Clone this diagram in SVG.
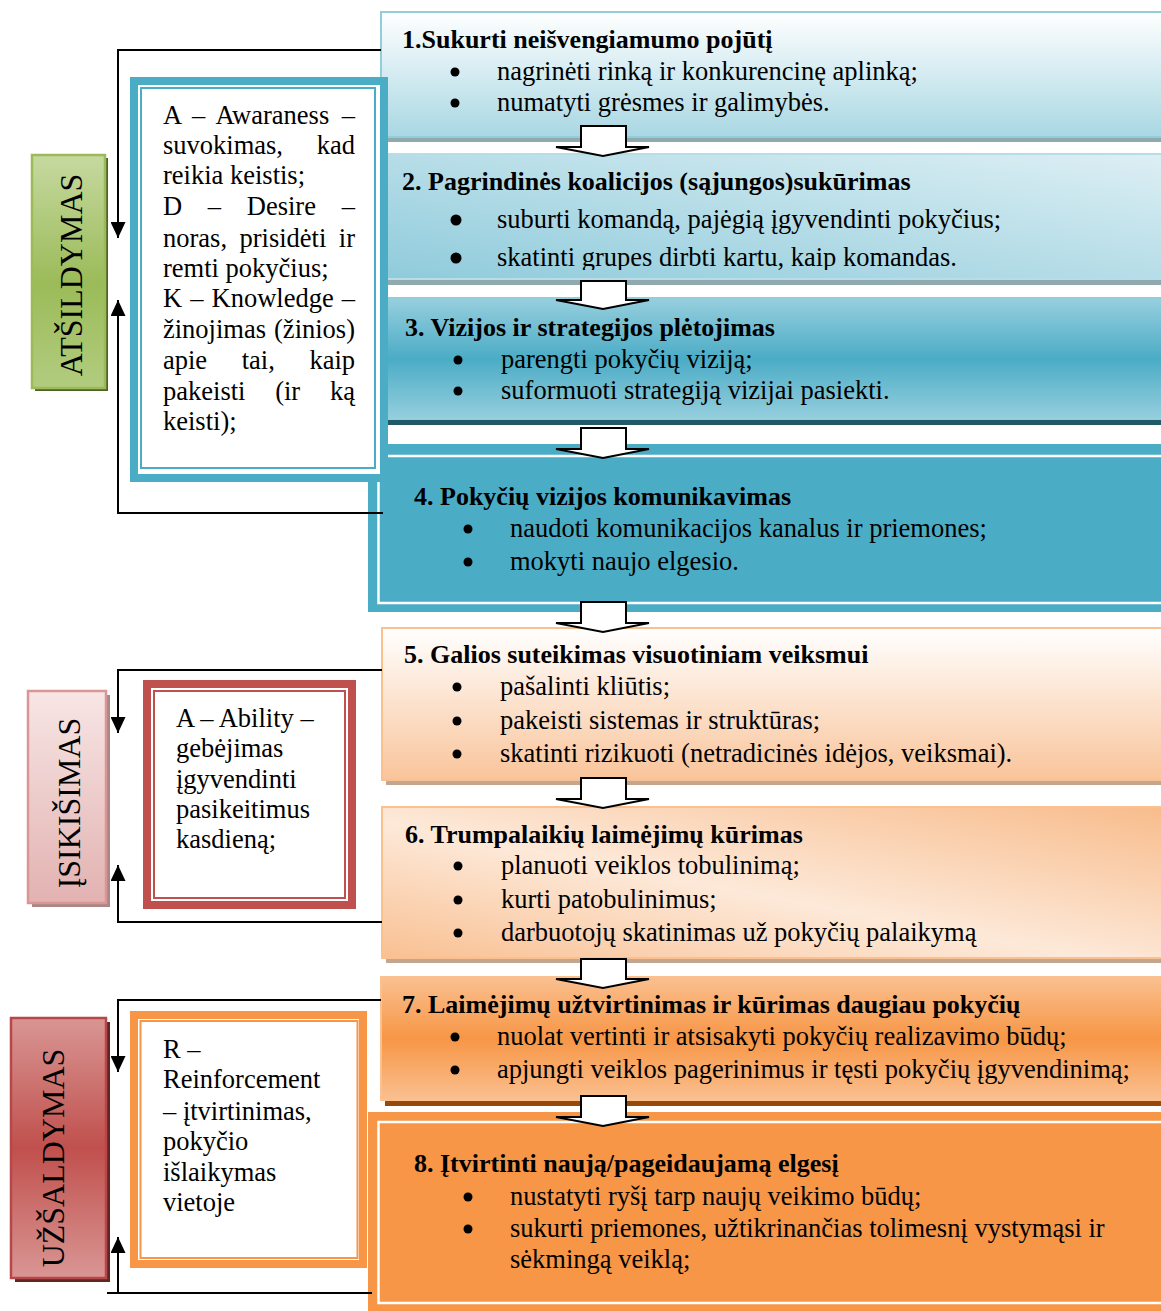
<svg xmlns="http://www.w3.org/2000/svg" width="1161" height="1311" viewBox="0 0 1161 1311">
<style>
.t{font-family:"Liberation Serif","Times New Roman",serif;font-size:26.5px;fill:#000}
.h{font-weight:bold;font-size:26px}
.s{font-size:32px}
.e{text-anchor:end}
.m{text-anchor:middle}
.c{fill:none;stroke:#000;stroke-width:2}
.ar{fill:#fff;stroke:#000;stroke-width:2;stroke-linejoin:miter}
.dot{fill:#000}
</style>
<defs>
<linearGradient id="g1" x1="0" y1="0" x2="0" y2="1"><stop offset="0" stop-color="#FFFFFF"/><stop offset="1" stop-color="#A9D7E3"/></linearGradient>
<linearGradient id="g2" x1="0" y1="1" x2="1" y2="0"><stop offset="0" stop-color="#8FCBDB"/><stop offset="1" stop-color="#DDEFF4"/></linearGradient>
<linearGradient id="g3" x1="0" y1="0" x2="0" y2="1"><stop offset="0" stop-color="#97CFDE"/><stop offset="0.5" stop-color="#4BACC6"/><stop offset="1" stop-color="#97CFDE"/></linearGradient>
<linearGradient id="g5" x1="0" y1="0" x2="0" y2="1"><stop offset="0" stop-color="#FFFFFF"/><stop offset="1" stop-color="#F9C49A"/></linearGradient>
<linearGradient id="g6" x1="0" y1="1" x2="1" y2="0"><stop offset="0" stop-color="#F9C092"/><stop offset="0.45" stop-color="#FDE9D9"/><stop offset="1" stop-color="#F8BC8C"/></linearGradient>
<linearGradient id="g7" x1="0" y1="0" x2="0" y2="1"><stop offset="0" stop-color="#FAC090"/><stop offset="0.5" stop-color="#F79646"/><stop offset="1" stop-color="#FAC090"/></linearGradient>
<linearGradient id="gA" x1="0" y1="0" x2="0" y2="1"><stop offset="0" stop-color="#C6D9A0"/><stop offset="0.55" stop-color="#9BBB59"/><stop offset="1" stop-color="#B2CC7F"/></linearGradient>
<linearGradient id="gI" x1="0" y1="0" x2="0" y2="1"><stop offset="0" stop-color="#F7E6E5"/><stop offset="1" stop-color="#E2B2B1"/></linearGradient>
<linearGradient id="gU" x1="0" y1="0" x2="0" y2="1"><stop offset="0" stop-color="#D99694"/><stop offset="0.5" stop-color="#C0504D"/><stop offset="1" stop-color="#D99694"/></linearGradient>
<marker id="ah" markerUnits="userSpaceOnUse" markerWidth="16" markerHeight="15" refX="16" refY="7.5" orient="auto"><path d="M0,0 L16,7.5 L0,15 z" fill="#000"/></marker>
<clipPath id="clip2"><rect x="381" y="154" width="782" height="116"/></clipPath>
</defs>

<g id="box1">
<rect x="385" y="137" width="778" height="5" fill="#8FA9AF"/>
<rect x="381" y="12" width="782" height="125" fill="url(#g1)" stroke="#92CDDC" stroke-width="2"/>
<text class="t h" x="402" y="48">1.Sukurti neišvengiamumo pojūtį</text>
<circle class="dot" cx="455" cy="72" r="4.5"/><circle class="dot" cx="455" cy="103" r="4.5"/>
<text class="t" x="497" y="80">nagrinėti rinką ir konkurencinę aplinką;</text>
<text class="t" x="497" y="111">numatyti grėsmes ir galimybės.</text>
</g>

<g id="box2">
<rect x="385" y="279" width="778" height="6" fill="#8FA9AF"/>
<rect x="381" y="154" width="782" height="125" fill="url(#g2)" stroke="#B6DDE8" stroke-width="2"/>
<text class="t h" x="402" y="190">2. Pagrindinės koalicijos (sąjungos)sukūrimas</text>
<circle class="dot" cx="456" cy="220" r="5.5"/><circle class="dot" cx="456" cy="258" r="5.5"/>
<text class="t" x="497" y="228">suburti komandą, pajėgią įgyvendinti pokyčius;</text>
<text class="t" x="497" y="266" clip-path="url(#clip2)">skatinti grupes dirbti kartu, kaip komandas.</text>
</g>

<g id="box3">
<rect x="381" y="298" width="782" height="122" fill="url(#g3)" stroke="#92CDDC" stroke-width="2"/>
<rect x="381" y="420" width="782" height="5" fill="#215968"/>
<text class="t h" x="405" y="336">3. Vizijos ir strategijos plėtojimas</text>
<circle class="dot" cx="458" cy="360" r="4.5"/><circle class="dot" cx="458" cy="391" r="4.5"/>
<text class="t" x="501" y="368">parengti pokyčių viziją;</text>
<text class="t" x="501" y="399">suformuoti strategiją vizijai pasiekti.</text>
</g>

<g id="box4">
<rect x="368" y="444" width="795" height="168" fill="#4BACC6"/>
<rect x="378.5" y="456" width="790" height="147" fill="none" stroke="#FFFFFF" stroke-width="2.5"/>
<text class="t h" x="414" y="505">4. Pokyčių vizijos komunikavimas</text>
<circle class="dot" cx="468" cy="529" r="4.5"/><circle class="dot" cx="468" cy="562" r="4.5"/>
<text class="t" x="510" y="537">naudoti komunikacijos kanalus ir priemones;</text>
<text class="t" x="510" y="570">mokyti naujo elgesio.</text>
</g>

<g id="box5">
<rect x="386" y="780" width="777" height="5" fill="#C4A68E"/>
<rect x="382" y="628" width="781" height="152" fill="url(#g5)" stroke="#FAC090" stroke-width="2"/>
<text class="t h" x="404" y="663">5. Galios suteikimas visuotiniam veiksmui</text>
<circle class="dot" cx="457" cy="687" r="4.5"/><circle class="dot" cx="457" cy="721" r="4.5"/><circle class="dot" cx="457" cy="754" r="4.5"/>
<text class="t" x="500" y="695">pašalinti kliūtis;</text>
<text class="t" x="500" y="729">pakeisti sistemas ir struktūras;</text>
<text class="t" x="500" y="762">skatinti rizikuoti (netradicinės idėjos, veiksmai).</text>
</g>

<g id="box6">
<rect x="386" y="958" width="777" height="5" fill="#C4A68E"/>
<rect x="382" y="807" width="781" height="151" fill="url(#g6)" stroke="#FAC090" stroke-width="2"/>
<text class="t h" x="405" y="843">6. Trumpalaikių laimėjimų kūrimas</text>
<circle class="dot" cx="458" cy="866" r="4.5"/><circle class="dot" cx="458" cy="900" r="4.5"/><circle class="dot" cx="458" cy="933" r="4.5"/>
<text class="t" x="501" y="874">planuoti veiklos tobulinimą;</text>
<text class="t" x="501" y="908">kurti patobulinimus;</text>
<text class="t" x="501" y="941">darbuotojų skatinimas už pokyčių palaikymą</text>
</g>

<g id="box7">
<rect x="385" y="1100" width="778" height="6" fill="#984807"/>
<rect x="381" y="977" width="782" height="123" fill="url(#g7)" stroke="#FAC090" stroke-width="2"/>
<text class="t h" x="402" y="1013">7. Laimėjimų užtvirtinimas ir kūrimas daugiau pokyčių</text>
<circle class="dot" cx="455" cy="1037" r="4.5"/><circle class="dot" cx="455" cy="1070" r="4.5"/>
<text class="t" x="497" y="1045">nuolat vertinti ir atsisakyti pokyčių realizavimo būdų;</text>
<text class="t" x="497" y="1078">apjungti veiklos pagerinimus ir tęsti pokyčių įgyvendinimą;</text>
</g>

<g id="box8">
<rect x="368" y="1112" width="795" height="205" fill="#F79646"/>
<rect x="378.5" y="1122" width="790" height="181" fill="none" stroke="#FFFFFF" stroke-width="2.5"/>
<text class="t h" x="414" y="1172">8. Įtvirtinti naują/pageidaujamą elgesį</text>
<circle class="dot" cx="468" cy="1197" r="4.5"/><circle class="dot" cx="468" cy="1229" r="4.5"/>
<text class="t" x="510" y="1205">nustatyti ryšį tarp naujų veikimo būdų;</text>
<text class="t" x="510" y="1237">sukurti priemones, užtikrinančias tolimesnį vystymąsi ir</text>
<text class="t" x="510" y="1268">sėkmingą veiklą;</text>
</g>

<g id="adk">
<rect x="130" y="77" width="258" height="405" fill="#4BACC6"/>
<rect x="138" y="85" width="242" height="389" fill="#FFFFFF"/>
<rect x="141" y="88" width="234" height="380" fill="none" stroke="#4BACC6" stroke-width="2"/>
<text class="t" x="163" y="124">A</text><text class="t" x="192" y="124">–</text><text class="t" x="215.4" y="124">Awaraness</text><text class="t e" x="355" y="124">–</text>
<text class="t" x="163" y="154">suvokimas,</text><text class="t e" x="355" y="154">kad</text>
<text class="t" x="163" y="184">reikia keistis;</text>
<text class="t" x="163" y="215">D</text><text class="t" x="207.8" y="215">–</text><text class="t" x="246.8" y="215">Desire</text><text class="t e" x="355" y="215">–</text>
<text class="t" x="163" y="247">noras,</text><text class="t" x="239.5" y="247">prisidėti</text><text class="t e" x="355" y="247">ir</text>
<text class="t" x="163" y="277">remti pokyčius;</text>
<text class="t" x="163" y="307">K</text><text class="t" x="190.2" y="307">–</text><text class="t" x="211.5" y="307">Knowledge</text><text class="t e" x="355" y="307">–</text>
<text class="t" x="163" y="338">žinojimas</text><text class="t e" x="355" y="338">(žinios)</text>
<text class="t" x="163" y="369">apie</text><text class="t" x="241.7" y="369">tai,</text><text class="t e" x="355" y="369">kaip</text>
<text class="t" x="163" y="400">pakeisti</text><text class="t" x="275.2" y="400">(ir</text><text class="t e" x="355" y="400">ką</text>
<text class="t" x="163" y="430">keisti);</text>
</g>

<g id="ability">
<rect x="143" y="680" width="213" height="229" fill="#C0504D"/>
<rect x="151" y="688" width="197" height="213" fill="#FFFFFF"/>
<rect x="154" y="691" width="191" height="207" fill="none" stroke="#C0504D" stroke-width="2"/>
<text class="t" x="176" y="727">A – Ability –</text>
<text class="t" x="176" y="757">gebėjimas</text>
<text class="t" x="176" y="788">įgyvendinti</text>
<text class="t" x="176" y="818">pasikeitimus</text>
<text class="t" x="176" y="848">kasdieną;</text>
</g>

<g id="reinforcement">
<rect x="130" y="1011" width="237" height="257" fill="#F79646"/>
<rect x="138" y="1019" width="221" height="241" fill="#FFFFFF"/>
<rect x="140.5" y="1021" width="217" height="237" fill="none" stroke="#F79646" stroke-width="2"/>
<text class="t" x="163" y="1058">R –</text>
<text class="t" x="163" y="1088">Reinforcement</text>
<text class="t" x="163" y="1120">– įtvirtinimas,</text>
<text class="t" x="163" y="1150">pokyčio</text>
<text class="t" x="163" y="1181">išlaikymas</text>
<text class="t" x="163" y="1211">vietoje</text>
</g>

<g id="atsildymas">
<rect x="35" y="158" width="73" height="233" fill="#4F6228"/>
<rect x="32" y="155" width="73" height="233" fill="url(#gA)" stroke="#9BBB59" stroke-width="2.5"/>
<text class="t s m" transform="translate(82,275) rotate(-90)">ATŠILDYMAS</text>
</g>

<g id="isikisimas">
<rect x="32" y="695" width="78" height="212" fill="#A88786"/>
<rect x="28" y="691" width="78" height="212" fill="url(#gI)" stroke="#D99694" stroke-width="2.5"/>
<text class="t s m" transform="translate(80,803) rotate(-90)">ĮSIKIŠIMAS</text>
</g>

<g id="uzsaldymas">
<rect x="15" y="1022" width="95" height="260" fill="#632523"/>
<rect x="11" y="1018" width="95" height="260" fill="url(#gU)" stroke="#B8474A" stroke-width="2.5"/>
<text class="t s m" transform="translate(64,1158) rotate(-90)">UŽŠALDYMAS</text>
</g>

<g id="connectors">
<path class="c" d="M381,50 H118 V238" marker-end="url(#ah)"/>
<path class="c" d="M383,513 H118 V300" marker-end="url(#ah)"/>
<path class="c" d="M382,670 H118 V733" marker-end="url(#ah)"/>
<path class="c" d="M382,922 H118 V865" marker-end="url(#ah)"/>
<path class="c" d="M381,1000 H118 V1072" marker-end="url(#ah)"/>
<path class="c" d="M107,1293 H372"/>
<path class="c" d="M118,1293 V1237" marker-end="url(#ah)"/>
<polygon class="ar" points="581,126 626,126 626,147 649,147 603,156 556,147 581,147"/>
<polygon class="ar" points="581,281 626,281 626,300 649,300 603,309 556,300 581,300"/>
<polygon class="ar" points="581,428 626,428 626,449 649,449 603,458 556,449 581,449"/>
<polygon class="ar" points="581,602 626,602 626,623 649,623 603,632 556,623 581,623"/>
<polygon class="ar" points="581,778 626,778 626,799 649,799 603,808 556,799 581,799"/>
<polygon class="ar" points="581,959 626,959 626,979 649,979 603,988 556,979 581,979"/>
<polygon class="ar" points="581,1096 626,1096 626,1117 649,1117 603,1126 556,1117 581,1117"/>
</g>
</svg>
